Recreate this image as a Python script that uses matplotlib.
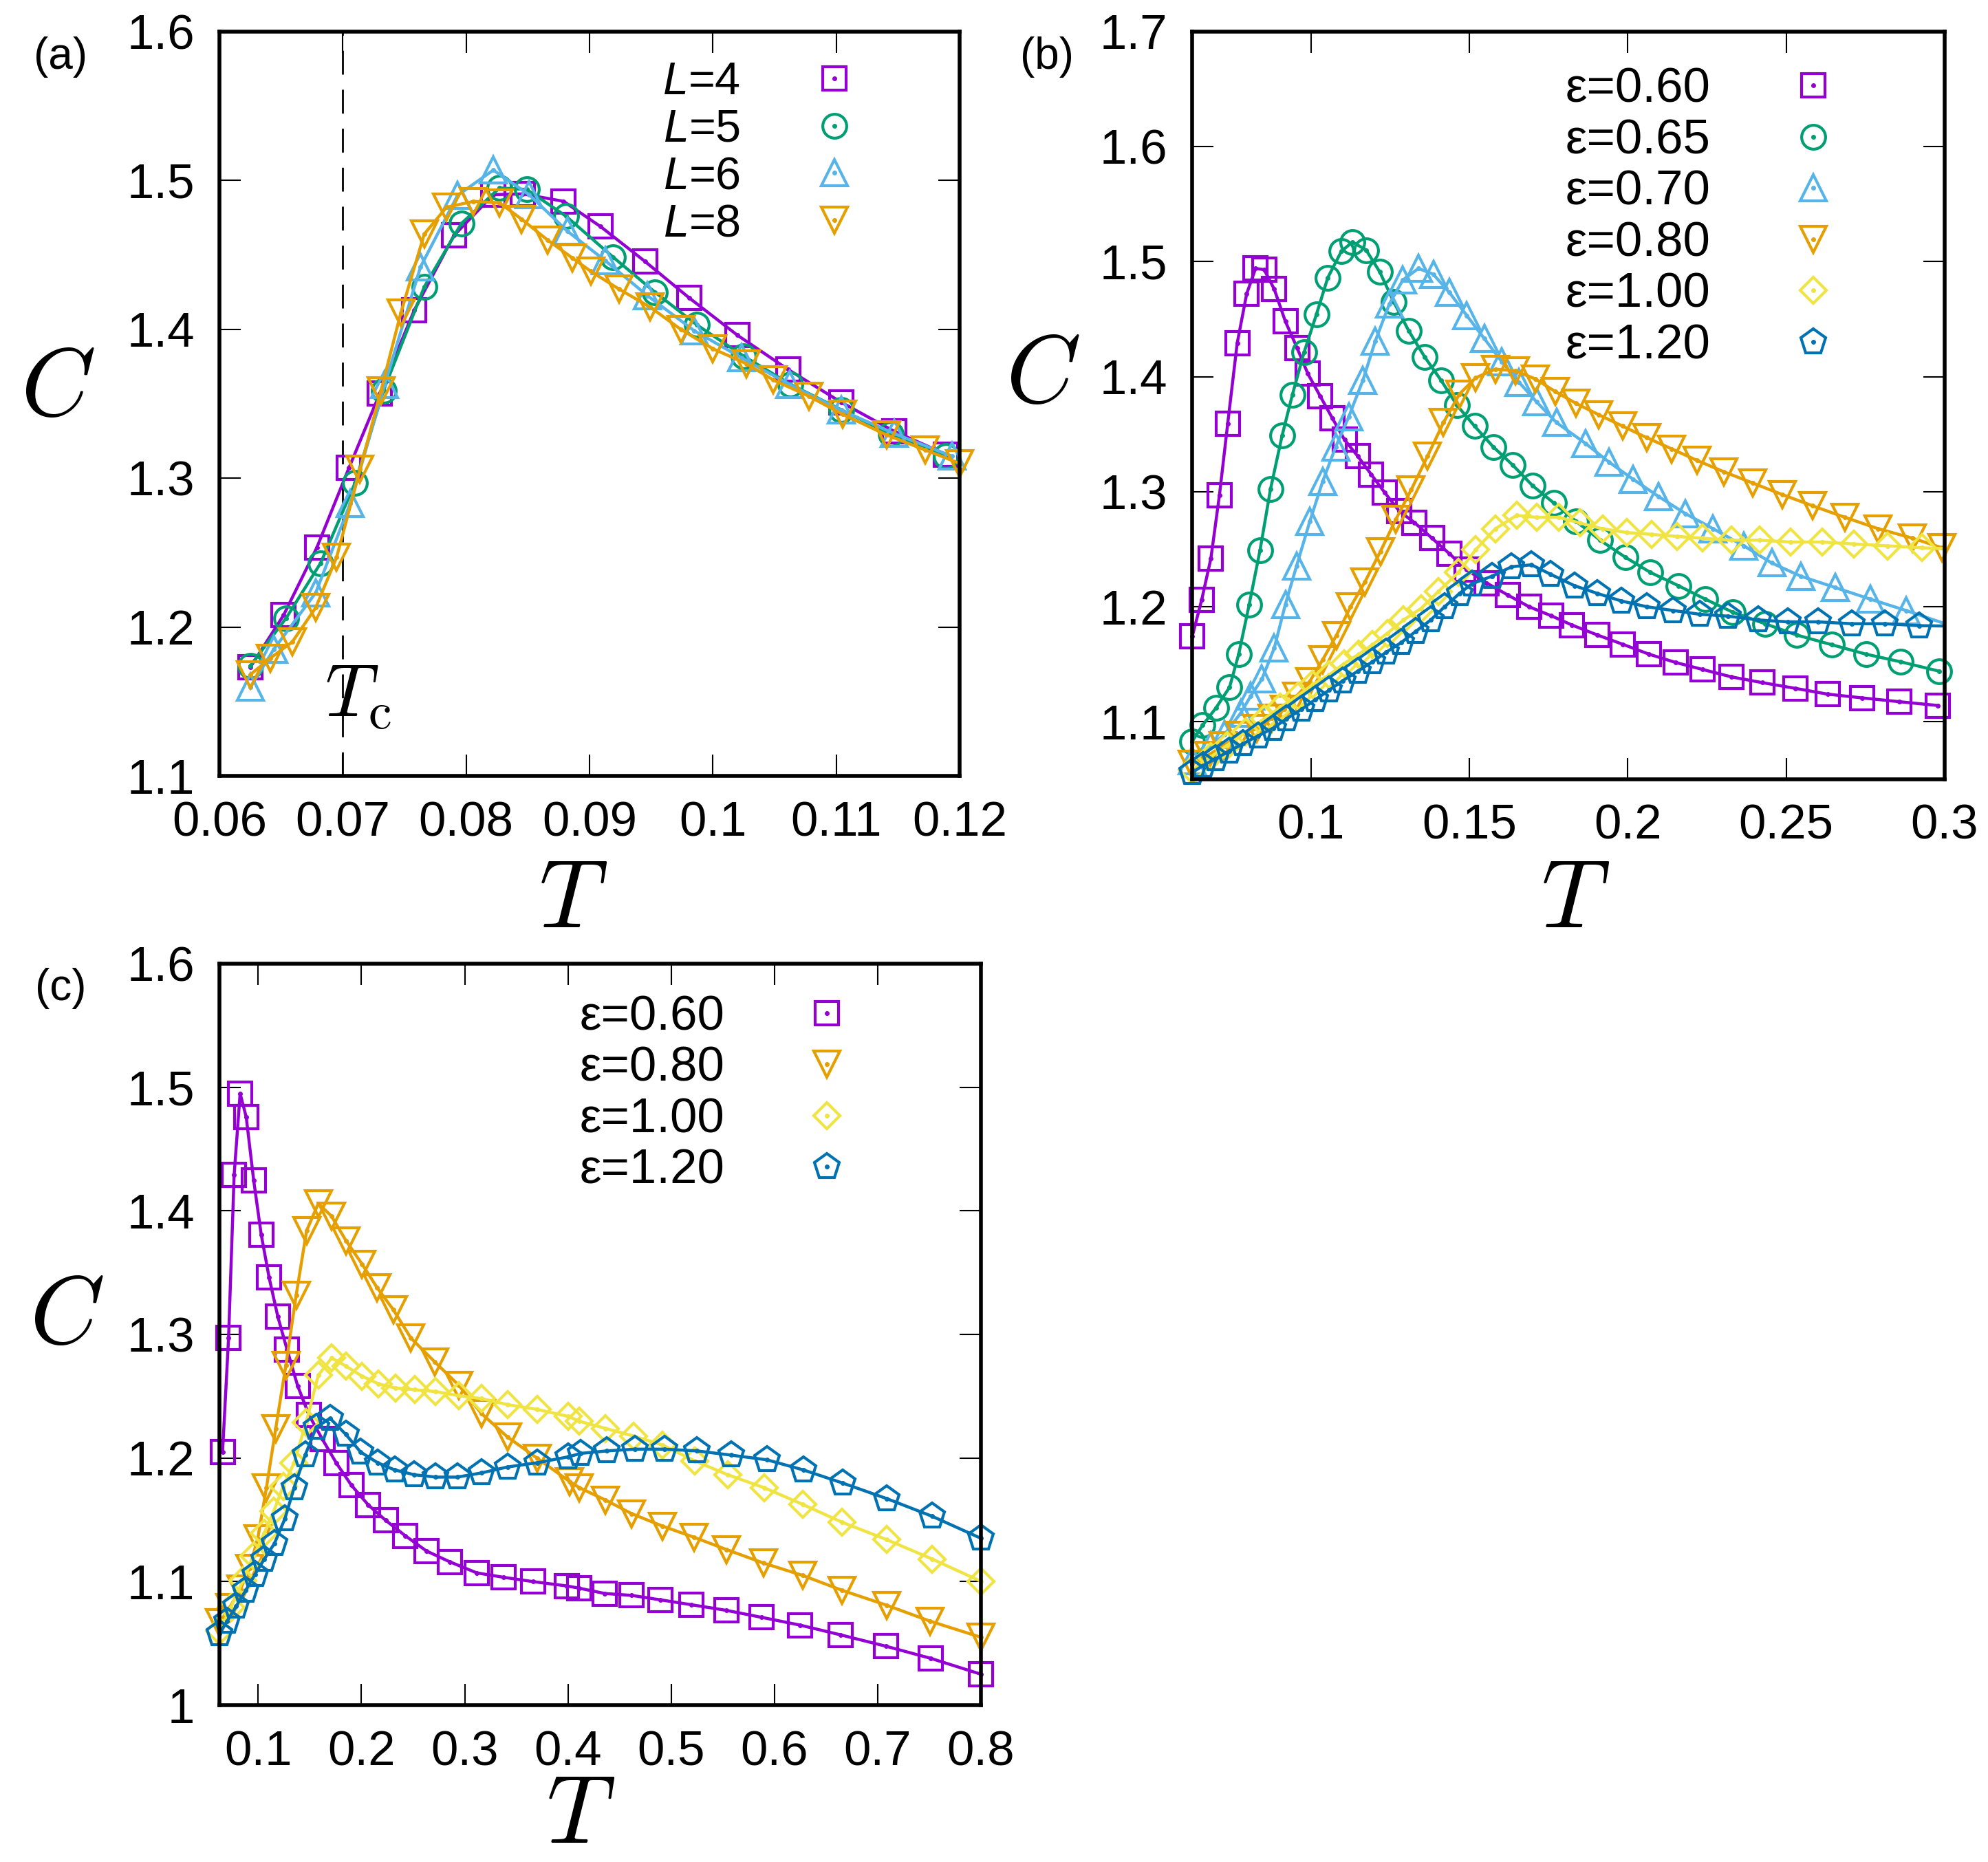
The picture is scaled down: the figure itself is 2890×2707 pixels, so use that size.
import numpy as np
import matplotlib
matplotlib.use('Agg')
from matplotlib import pyplot as plt
from matplotlib.ticker import FormatStrFormatter
from matplotlib.legend_handler import HandlerTuple

plt.rcParams['font.family'] = ['Liberation Sans', 'DejaVu Sans']
plt.rcParams['mathtext.fontset'] = 'custom'
plt.rcParams['mathtext.it'] = 'Liberation Sans:italic'
plt.rcParams['mathtext.rm'] = 'Liberation Sans'

# ---- panel (a): finite-size, L = 4, 5, 6, 8
A_T_L4 = [0.0625, 0.0652, 0.0679, 0.0705, 0.0730, 0.0758, 0.0790, 0.0822, 0.0846, 0.0879, 0.0909,
          0.0945, 0.0981, 0.1020, 0.1061, 0.1104, 0.1147, 0.1189]
A_C_L4 = [1.173, 1.208, 1.2535, 1.307, 1.357, 1.413, 1.463, 1.4905, 1.491, 1.486, 1.469,
          1.4456, 1.421, 1.396, 1.373, 1.351, 1.3315, 1.316]
A_T_L5 = [0.0625, 0.0654, 0.0682, 0.0710, 0.0733, 0.0766, 0.0796, 0.0827, 0.0849, 0.0881, 0.0919,
          0.0953, 0.0987, 0.1025, 0.1063, 0.1104, 0.1144, 0.1189]
A_C_L5 = [1.174, 1.206, 1.243, 1.297, 1.359, 1.4285, 1.471, 1.495, 1.494, 1.476, 1.4486,
          1.425, 1.403, 1.382, 1.363, 1.346, 1.3295, 1.3147]
A_T_L6 = [0.0625, 0.0644, 0.0678, 0.0706, 0.0734, 0.0763, 0.0793, 0.0822, 0.0851, 0.0882, 0.0913,
          0.0947, 0.0985, 0.1023, 0.1062, 0.1104, 0.1147, 0.1194]
A_C_L6 = [1.1595, 1.185, 1.223, 1.283, 1.363, 1.442, 1.49, 1.507, 1.4905, 1.466, 1.446,
          1.4226, 1.399, 1.381, 1.363, 1.3457, 1.330, 1.3147]
A_T_L8 = [0.0625, 0.0641, 0.0659, 0.0678, 0.0695, 0.0714, 0.0731, 0.0747, 0.0766, 0.0784, 0.0806,
          0.0827, 0.0845, 0.0866, 0.0886, 0.0901, 0.0924, 0.0949, 0.0974, 0.1000, 0.1027, 0.1049,
          0.1078, 0.1105, 0.1141, 0.1172, 0.1200]
A_C_L8 = [1.168, 1.179, 1.190, 1.213, 1.247, 1.306, 1.359, 1.411, 1.464, 1.482, 1.486,
          1.485, 1.474, 1.460, 1.448, 1.439, 1.427, 1.415, 1.400, 1.387, 1.377, 1.366,
          1.355, 1.343, 1.329, 1.319, 1.310]
A_LABELS = ['$L$=4', '$L$=5', '$L$=6', '$L$=8']
A_TC = 0.07
A_XTICKS = [0.06, 0.07, 0.08, 0.09, 0.10, 0.11, 0.12]
A_YTICKS = [1.1, 1.2, 1.3, 1.4, 1.5, 1.6]

# ---- panel (b): several eps
B_T_060 = [0.0625, 0.0655, 0.0684, 0.0711, 0.0737, 0.0767, 0.0797, 0.0825, 0.0852, 0.0884, 0.0919,
           0.0956, 0.0990, 0.1029, 0.1067, 0.1106, 0.1147, 0.1190, 0.1233, 0.1279, 0.1327, 0.1382,
           0.1437, 0.1492, 0.1555, 0.1622, 0.1688, 0.1759, 0.1824, 0.1903, 0.1983, 0.2067, 0.2151,
           0.2235, 0.2328, 0.2424, 0.2529, 0.2630, 0.2740, 0.2857, 0.2979]
B_C_060 = [1.174, 1.206, 1.242, 1.297, 1.359, 1.429, 1.472, 1.494, 1.493, 1.476, 1.448,
           1.425, 1.4025, 1.383, 1.364, 1.345, 1.331, 1.315, 1.299, 1.283, 1.273, 1.2595,
           1.246, 1.232, 1.2205, 1.210, 1.200, 1.192, 1.184, 1.1755, 1.1674, 1.1587, 1.1515,
           1.1455, 1.1389, 1.134, 1.129, 1.124, 1.1207, 1.1174, 1.1141]
B_T_065 = [0.0625, 0.0658, 0.0700, 0.0743, 0.0772, 0.0805, 0.0839, 0.0872, 0.0909, 0.0941, 0.0978,
           0.1017, 0.1053, 0.1096, 0.1131, 0.1174, 0.1217, 0.1261, 0.1308, 0.1359, 0.1410, 0.1461,
           0.1516, 0.1575, 0.1637, 0.1700, 0.1767, 0.1836, 0.1912, 0.1992, 0.2071, 0.2160, 0.2244,
           0.2332, 0.2433, 0.2534, 0.2643, 0.2752, 0.2861, 0.2983]
B_C_065 = [1.083, 1.097, 1.112, 1.130, 1.159, 1.202, 1.249, 1.302, 1.349, 1.384, 1.421,
           1.454, 1.486, 1.509, 1.517, 1.510, 1.491, 1.465, 1.440, 1.417, 1.397, 1.375,
           1.357, 1.339, 1.323, 1.305, 1.290, 1.2744, 1.2579, 1.243, 1.2298, 1.2182, 1.2066,
           1.1951, 1.1852, 1.1753, 1.167, 1.1587, 1.1521, 1.1439]
B_T_070 = [0.0625, 0.0684, 0.0727, 0.0778, 0.0809, 0.0845, 0.0884, 0.0919, 0.0954, 0.0996, 0.1037,
           0.1078, 0.1119, 0.1164, 0.1203, 0.1247, 0.1290, 0.1339, 0.1386, 0.1437, 0.1492, 0.1547,
           0.1602, 0.1657, 0.1712, 0.1775, 0.1866, 0.1941, 0.2017, 0.2097, 0.2181, 0.2269, 0.2366,
           0.2454, 0.2546, 0.2655, 0.2765, 0.2878, 0.3100]
B_C_070 = [1.066, 1.079, 1.089, 1.1075, 1.122, 1.137, 1.164, 1.202, 1.235, 1.274, 1.309,
           1.339, 1.365, 1.397, 1.431, 1.463, 1.484, 1.494, 1.489, 1.473, 1.453, 1.433,
           1.413, 1.395, 1.378, 1.360, 1.342, 1.3256, 1.3107, 1.2958, 1.281, 1.2678, 1.2529,
           1.238, 1.2265, 1.2166, 1.2066, 1.1967, 1.176]
B_T_080 = [0.0625, 0.0676, 0.0723, 0.0774, 0.0829, 0.0876, 0.0915, 0.0954, 0.0996, 0.1037, 0.1080,
           0.1125, 0.1170, 0.1219, 0.1268, 0.1316, 0.1368, 0.1418, 0.1469, 0.1520, 0.1582, 0.1645,
           0.1708, 0.1771, 0.1836, 0.1908, 0.1983, 0.2059, 0.2139, 0.2218, 0.2303, 0.2395, 0.2487,
           0.2584, 0.2685, 0.2790, 0.2899, 0.2992]
B_C_080 = [1.063, 1.071, 1.079, 1.088, 1.094, 1.103, 1.111, 1.122, 1.135, 1.154, 1.175,
           1.200, 1.2215, 1.248, 1.276, 1.3015, 1.331, 1.360, 1.385, 1.399, 1.4065, 1.405,
           1.398, 1.387, 1.3768, 1.3669, 1.357, 1.347, 1.3371, 1.3272, 1.3173, 1.3074, 1.2975,
           1.2876, 1.2777, 1.2678, 1.2595, 1.2512]
B_T_100 = [0.0625, 0.0684, 0.0735, 0.0794, 0.0852, 0.0903, 0.0958, 0.1005, 0.1057, 0.1104, 0.1151,
           0.1194, 0.1241, 0.1292, 0.1347, 0.1402, 0.1465, 0.1520, 0.1582, 0.1649, 0.1712, 0.1782,
           0.1849, 0.1920, 0.1996, 0.2076, 0.2155, 0.2235, 0.2328, 0.2416, 0.2513, 0.2613, 0.2714,
           0.2819, 0.2929, 0.3050]
B_C_100 = [1.058, 1.0696, 1.0794, 1.091, 1.1026, 1.1125, 1.1224, 1.1323, 1.1406, 1.1505, 1.1587,
           1.167, 1.1769, 1.1885, 1.1984, 1.2132, 1.2298, 1.2496, 1.2678, 1.2793, 1.2777, 1.2777,
           1.2727, 1.2678, 1.2645, 1.2628, 1.2611, 1.2595, 1.2578, 1.2578, 1.2562, 1.2562, 1.2545,
           1.2529, 1.2512, 1.2500]
B_T_120 = [0.0625, 0.0660, 0.0699, 0.0743, 0.0786, 0.0833, 0.0880, 0.0923, 0.0970, 0.1013, 0.1057,
           0.1100, 0.1147, 0.1194, 0.1237, 0.1284, 0.1331, 0.1378, 0.1422, 0.1469, 0.1508, 0.1571,
           0.1633, 0.1696, 0.1756, 0.1832, 0.1903, 0.1979, 0.2059, 0.2143, 0.2227, 0.2315, 0.2412,
           0.2504, 0.2601, 0.2706, 0.2811, 0.2920, 0.3050]
B_C_120 = [1.056, 1.062, 1.068, 1.0745, 1.081, 1.0877, 1.0943, 1.1026, 1.1108, 1.1191, 1.1274,
           1.1356, 1.1439, 1.1521, 1.1604, 1.1687, 1.1786, 1.1885, 1.200, 1.2116, 1.2199, 1.2265,
           1.2347, 1.2364, 1.2282, 1.2182, 1.2116, 1.205, 1.200, 1.1967, 1.1934, 1.1918, 1.1885,
           1.1868, 1.1868, 1.1852, 1.1852, 1.1835, 1.1830]
B_LABELS = ['ε=0.60', 'ε=0.65', 'ε=0.70', 'ε=0.80', 'ε=1.00', 'ε=1.20']
B_XTICKS = [0.10, 0.15, 0.20, 0.25, 0.30]
B_YTICKS = [1.1, 1.2, 1.3, 1.4, 1.5, 1.6, 1.7]

# ---- panel (c): wide temperature range
C_T_060 = [0.0655, 0.0713, 0.0767, 0.0825, 0.0884, 0.0956, 0.1029, 0.1106, 0.1190, 0.1279, 0.1382,
           0.1492, 0.1622, 0.1759, 0.1903, 0.2067, 0.2235, 0.2424, 0.2630, 0.2857, 0.3117, 0.3378,
           0.3665, 0.3992, 0.4110, 0.4358, 0.4615, 0.4895, 0.5197, 0.5532, 0.5878, 0.6250, 0.6643,
           0.7078, 0.7516, 0.8000]
C_C_060 = [1.205, 1.297, 1.429, 1.495, 1.476, 1.425, 1.381, 1.346, 1.3145, 1.288, 1.2585,
           1.2348, 1.2152, 1.1957, 1.178, 1.162, 1.1496, 1.1372, 1.1248, 1.116, 1.1071, 1.1035,
           1.100, 1.0965, 1.0947, 1.0904, 1.0889, 1.0853, 1.0813, 1.0768, 1.0711, 1.0648, 1.0569,
           1.0478, 1.0379, 1.0251]
C_T_080 = [0.0625, 0.0723, 0.0829, 0.0915, 0.0996, 0.1080, 0.1170, 0.1268, 0.1368, 0.1469, 0.1582,
           0.1708, 0.1850, 0.2006, 0.2151, 0.2309, 0.2480, 0.2708, 0.2942, 0.3163, 0.3416, 0.3701,
           0.4017, 0.4112, 0.4365, 0.4618, 0.4915, 0.5219, 0.5535, 0.5896, 0.6275, 0.6655, 0.7085,
           0.7509, 0.8000]
C_C_080 = [1.067, 1.079, 1.094, 1.111, 1.135, 1.176, 1.224, 1.275, 1.332, 1.384, 1.406,
           1.396, 1.376, 1.357, 1.338, 1.320, 1.297, 1.278, 1.259, 1.236, 1.217, 1.200,
           1.181, 1.176, 1.166, 1.155, 1.145, 1.136, 1.126, 1.115, 1.105, 1.093, 1.081,
           1.068, 1.055]
C_T_100 = [0.0625, 0.0735, 0.0852, 0.0958, 0.1057, 0.1151, 0.1241, 0.1347, 0.1465, 0.1582, 0.1712,
           0.1848, 0.2006, 0.2164, 0.2328, 0.2518, 0.2720, 0.2942, 0.3163, 0.3416, 0.3701, 0.4004,
           0.4112, 0.4365, 0.4637, 0.4915, 0.5232, 0.5548, 0.5902, 0.6275, 0.6655, 0.7085, 0.7528,
           0.8000]
C_C_100 = [1.060, 1.079, 1.101, 1.121, 1.139, 1.157, 1.177, 1.196, 1.229, 1.267, 1.281,
           1.2745, 1.2663, 1.2601, 1.2567, 1.2553, 1.2538, 1.2505, 1.2481, 1.2433, 1.2394, 1.2337,
           1.2298, 1.224, 1.2178, 1.2106, 1.1976, 1.1865, 1.176, 1.1625, 1.1481, 1.1341, 1.1183,
           1.1003]
C_T_120 = [0.0625, 0.0699, 0.0786, 0.0880, 0.0970, 0.1057, 0.1158, 0.1259, 0.1348, 0.1455, 0.1563,
           0.1696, 0.1848, 0.1993, 0.2158, 0.2322, 0.2512, 0.2720, 0.2929, 0.3163, 0.3416, 0.3701,
           0.4004, 0.4125, 0.4378, 0.4650, 0.4934, 0.5250, 0.5579, 0.5927, 0.6281, 0.6661, 0.7085,
           0.7528, 0.8000]
C_C_120 = [1.058, 1.068, 1.080, 1.093, 1.106, 1.118, 1.131, 1.151, 1.176, 1.2024, 1.225,
           1.2322, 1.2192, 1.2048, 1.1962, 1.1904, 1.1865, 1.1846, 1.1846, 1.188, 1.1928, 1.1962,
           1.201, 1.2038, 1.2058, 1.2072, 1.2072, 1.2058, 1.2024, 1.1986, 1.1904, 1.1798, 1.1673,
           1.1529, 1.1351]
C_LABELS = ['ε=0.60', 'ε=0.80', 'ε=1.00', 'ε=1.20']
C_XTICKS = [0.1, 0.2, 0.3, 0.4, 0.5, 0.6, 0.7, 0.8]
C_YTICKS = [1.0, 1.1, 1.2, 1.3, 1.4, 1.5, 1.6]

# gnuplot default colours / point types
PURPLE, GREEN, CYAN = '#9400d3', '#009e73', '#56b4e9'
ORANGE, YELLOW, BLUE = '#e69f00', '#f0e442', '#0072b2'
STYLE = {
    'sq': ('s', 25), 'ci': ('o', 25), 'up': ('^', 27),
    'dn': ('v', 27), 'di': ('D', 19), 'pe': ('p', 28),
}

TICKSIZE = 51
BIGSIZE = 100


def series(ax, T, C, color, kind, z, xmax):
    T = np.asarray(T)
    C = np.asarray(C)
    marker, ms = STYLE[kind]
    ax.plot(T, C, '-', color=color, lw=3.2, zorder=z)
    keep = T <= xmax + 1e-9
    m, = ax.plot(T[keep], C[keep], ls='none', marker=marker, ms=ms, mfc='none', mec=color,
                 mew=3.0, clip_on=False, zorder=z)
    d, = ax.plot(T[keep], C[keep], ls='none', marker='o', ms=4, mfc=color, mec=color,
                 clip_on=False, zorder=z)
    return (m, d)


def frame(ax, xlim, ylim, xticks, yticks):
    ax.set_xlim(xlim)
    ax.set_ylim(ylim)
    ax.set_xticks(xticks)
    ax.set_yticks(yticks)
    ax.xaxis.set_major_formatter(FormatStrFormatter('%g'))
    ax.yaxis.set_major_formatter(FormatStrFormatter('%g'))
    ax.tick_params(direction='in', top=True, right=True, length=22, width=1.5,
                   labelsize=TICKSIZE, pad=26)
    for s in ax.spines.values():
        s.set_linewidth(4)


def labels(ax, cx, cy, tx, ty):
    ax.set_ylabel(r'$C$', rotation=0, fontsize=BIGSIZE, math_fontfamily='cm', ha='center', va='center')
    ax.yaxis.set_label_coords(cx, cy)
    ax.set_xlabel(r'$T$', fontsize=BIGSIZE, math_fontfamily='cm', ha='center', va='center')
    ax.xaxis.set_label_coords(tx, ty)


def key(ax, handles, names, x, y, pad, size, spacing):
    ax.legend(handles, names, handler_map={tuple: HandlerTuple(ndivide=1, pad=0)},
              loc='upper right', bbox_to_anchor=(x, y), frameon=False, markerfirst=False,
              fontsize=size, handlelength=1.0, handletextpad=pad, labelspacing=spacing,
              borderpad=0, borderaxespad=0)


fig = plt.figure(figsize=(28.9, 27.07), dpi=100)
ax_a = fig.add_axes([0.1104, 0.5833, 0.3723, 0.3997])
ax_b = fig.add_axes([0.5997, 0.5815, 0.3785, 0.4016])
ax_c = fig.add_axes([0.1104, 0.0842, 0.3830, 0.3982])

# (a)
frame(ax_a, (0.06, 0.12), (1.1, 1.6), A_XTICKS, A_YTICKS)
ax_a.axvline(A_TC, color='k', lw=2, ls=(0, (12.5, 7.9)), zorder=1)
ha = [series(ax_a, A_T_L4, A_C_L4, PURPLE, 'sq', 2.0, 0.12),
      series(ax_a, A_T_L5, A_C_L5, GREEN, 'ci', 2.1, 0.12),
      series(ax_a, A_T_L6, A_C_L6, CYAN, 'up', 2.2, 0.12),
      series(ax_a, A_T_L8, A_C_L8, ORANGE, 'dn', 2.3, 0.12)]
key(ax_a, ha, A_LABELS, 0.862, 0.960, 1.56, 48, 0.1)
ax_a.text(0.0712, 1.153, r'$T_{\mathrm{c}}$', fontsize=78, math_fontfamily='cm', ha='center', va='center')
labels(ax_a, -0.219, 0.518, 0.478, -0.170)

# (b)
frame(ax_b, (0.0625, 0.3), (1.05, 1.7), B_XTICKS, B_YTICKS)
hb = [series(ax_b, B_T_060, B_C_060, PURPLE, 'sq', 2.0, 0.3),
      series(ax_b, B_T_065, B_C_065, GREEN, 'ci', 2.1, 0.3),
      series(ax_b, B_T_070, B_C_070, CYAN, 'up', 2.2, 0.3),
      series(ax_b, B_T_080, B_C_080, ORANGE, 'dn', 2.3, 0.3),
      series(ax_b, B_T_100, B_C_100, YELLOW, 'di', 2.4, 0.3),
      series(ax_b, B_T_120, B_C_120, BLUE, 'pe', 2.5, 0.3)]
key(ax_b, hb, B_LABELS, 0.858, 0.952, 1.62, 51, 0.12)
labels(ax_b, -0.199, 0.537, 0.509, -0.165)

# (c)
frame(ax_c, (0.0625, 0.8), (1.0, 1.6), C_XTICKS, C_YTICKS)
hc = [series(ax_c, C_T_060, C_C_060, PURPLE, 'sq', 2.0, 0.8),
      series(ax_c, C_T_080, C_C_080, ORANGE, 'dn', 2.1, 0.8),
      series(ax_c, C_T_100, C_C_100, YELLOW, 'di', 2.2, 0.8),
      series(ax_c, C_T_120, C_C_120, BLUE, 'pe', 2.3, 0.8)]
key(ax_c, hc, C_LABELS, 0.830, 0.958, 1.6, 51, 0.12)
labels(ax_c, -0.201, 0.521, 0.474, -0.152)

fig.text(88 / 2890, 1 - 83 / 2707, '(a)', fontsize=46, ha='center', va='center')
fig.text(1522 / 2890, 1 - 83 / 2707, '(b)', fontsize=46, ha='center', va='center')
fig.text(88 / 2890, 1 - 1437 / 2707, '(c)', fontsize=46, ha='center', va='center')

fig.savefig('out.png', dpi=100)
